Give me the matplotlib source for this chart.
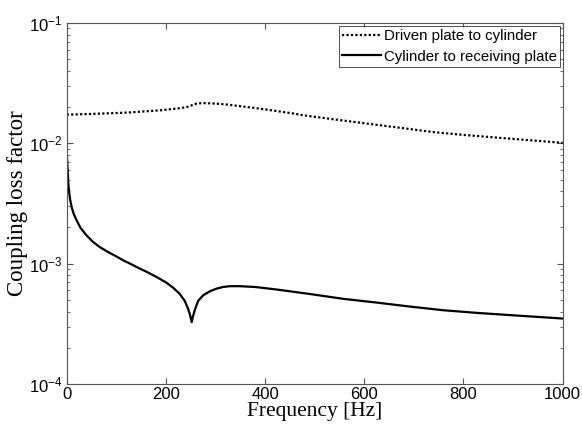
import numpy as np
import matplotlib
matplotlib.use("Agg")
import matplotlib.pyplot as plt
from matplotlib.ticker import LogLocator, FixedLocator, NullFormatter

# Data
freq_driven = [0, 60, 121, 188, 225, 242, 262, 275, 300, 323, 356, 390, 425, 457,
               477, 540, 605, 670, 739, 805, 874, 935, 1000]
clf_driven = [0.0173, 0.0176, 0.0180, 0.0188, 0.0195, 0.0200, 0.0214, 0.0216, 0.0214,
              0.0210, 0.0202, 0.0194, 0.0185, 0.0177, 0.0171, 0.0158, 0.0146, 0.0135,
              0.0124, 0.0117, 0.0111, 0.0106, 0.0101]

freq_recv = [0, 1, 2, 3.3, 5, 7, 10, 14, 20, 28, 40, 52, 67, 85, 100, 115, 130, 145,
             160, 180, 200, 215, 228, 238, 245, 249, 252, 255, 259, 265, 275, 289,
             302, 315, 329, 349, 380, 423, 490, 558, 625, 692, 760, 827, 910, 1000]
clf_recv = [0.0082, 0.0072, 0.0058, 0.0046, 0.0039, 0.0034, 0.00295, 0.0026, 0.00229,
            0.00198, 0.00172, 0.00153, 0.00137, 0.00124, 0.00115, 0.00106, 0.00099,
            0.00092, 0.00086, 0.00078, 0.00070, 0.00063, 0.00056, 0.00049, 0.00042,
            0.00037, 0.000327, 0.00037, 0.00042, 0.00049, 0.000546, 0.00059,
            0.00062, 0.00064, 0.00065, 0.00065, 0.00064, 0.00061, 0.00056, 0.00051,
            0.000475, 0.00044, 0.00041, 0.00039, 0.00037, 0.00035]

xticks = [0, 200, 400, 600, 800, 1000]
yticks = [1e-4, 1e-3, 1e-2, 1e-1]
ytick_labels = [r"$\mathregular{10^{-4}}$", r"$\mathregular{10^{-3}}$",
                r"$\mathregular{10^{-2}}$", r"$\mathregular{10^{-1}}$"]

plt.rcParams["font.family"] = ["Liberation Sans", "DejaVu Sans"]
plt.rcParams["mathtext.default"] = "regular"

fig = plt.figure(figsize=(5.82, 4.24), dpi=100)
ax = fig.add_axes([0.1146, 0.0943, 0.8522, 0.8515])

ax.plot(freq_driven, clf_driven, color="black", linestyle=(0, (1, 1)), linewidth=1.6,
        label="Driven plate to cylinder")
ax.plot(freq_recv, clf_recv, color="black", linestyle="-", linewidth=1.6,
        label="Cylinder to receiving plate")

ax.set_yscale("log")
ax.set_xlim(0, 1000)
ax.set_ylim(1e-4, 1e-1)
ax.xaxis.set_major_locator(FixedLocator(xticks))
ax.set_yticks(yticks)
ax.set_yticklabels(ytick_labels)
ax.yaxis.set_minor_locator(LogLocator(base=10, subs=np.arange(2, 10)))
ax.yaxis.set_minor_formatter(NullFormatter())

ax.tick_params(which="both", direction="in", top=True, right=True, color="#555555",
               labelsize=12, pad=3)
ax.tick_params(axis="x", pad=2)
ax.tick_params(which="major", length=4)
ax.tick_params(which="minor", length=2.5)
for s in ax.spines.values():
    s.set_color("#555555")
    s.set_linewidth(0.8)

ax.set_xlabel("Frequency [Hz]", fontsize=15.5, family=["Liberation Serif"], labelpad=0)
ax.set_ylabel("Coupling loss factor", fontsize=16.5, family=["Liberation Serif"], labelpad=1)

leg = ax.legend(loc="upper right", fontsize=10.8, frameon=True, fancybox=False,
                edgecolor="black", borderpad=0.2, labelspacing=0.45,
                handlelength=2.6, handletextpad=0.15, borderaxespad=0.2)
leg.get_frame().set_linewidth(0.6)

fig.savefig("out.png", dpi=100)
